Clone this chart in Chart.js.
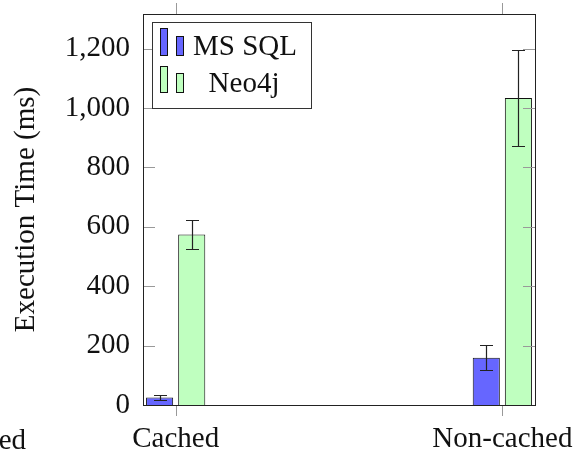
<!DOCTYPE html>
<html>
<head>
<meta charset="utf-8">
<script src="https://cdn.jsdelivr.net/npm/chart.js@4"></script>
<style>
  body { margin: 0; background: #fff; }
  #wrap { width: 583px; height: 456px; }
</style>
</head>
<body>
<div id="wrap"><canvas id="chart" width="583" height="456"></canvas></div>
<script>
// Data
const categories = ['Cached', 'Non-cached'];
const msSqlTimes = [25, 159];
const msSqlErrors = [8, 42];
const neo4jTimes = [574, 1034];
const neo4jErrors = [49, 163];
const yTicks = [0, 200, 400, 600, 800, 1000, 1200];

const FONT = "'Liberation Serif', 'Times New Roman', serif";
const BLUE = '#6666ff';
const GREEN = '#bfffbf';
const EDGE = '#111';

function toPoints(values) {
  return values.map((v, i) => ({ x: i, y: v }));
}

// Frame, inner ticks, error bars, legend (pgfplots look)
const decorations = {
  id: 'decorations',
  afterDatasetsDraw(chart) {
    const { ctx, chartArea: a, scales: { x, y } } = chart;
    ctx.save();

    // error bars
    const errs = [msSqlErrors, neo4jErrors];
    chart.data.datasets.forEach((ds, di) => {
      const meta = chart.getDatasetMeta(di);
      meta.data.forEach((bar, i) => {
        const v = ds.data[i].y;
        const e = errs[di][i];
        const top = Math.round(y.getPixelForValue(v + e)) + 0.5;
        const bot = Math.round(y.getPixelForValue(v - e)) + 0.5;
        const cx = Math.round(bar.x) + 0.5;
        ctx.strokeStyle = '#222';
        ctx.lineWidth = 1.2;
        ctx.beginPath();
        ctx.moveTo(cx, top); ctx.lineTo(cx, bot);
        ctx.moveTo(cx - 6.5, top); ctx.lineTo(cx + 6.5, top);
        ctx.moveTo(cx - 6.5, bot); ctx.lineTo(cx + 6.5, bot);
        ctx.stroke();
      });
    });

    // tick marks
    ctx.strokeStyle = '#999';
    ctx.lineWidth = 1;
    ctx.beginPath();
    yTicks.forEach(t => {
      const py = Math.round(y.getPixelForValue(t)) + 0.5;
      ctx.moveTo(a.left, py); ctx.lineTo(a.left + 12, py);
      ctx.moveTo(a.right, py); ctx.lineTo(a.right - 12, py);
    });
    categories.forEach((c, i) => {
      const px = Math.round(x.getPixelForValue(i)) + 0.5;
      ctx.moveTo(px, a.top); ctx.lineTo(px, a.top - 11);
      ctx.moveTo(px, a.bottom); ctx.lineTo(px, a.bottom + 11);
    });
    ctx.stroke();

    // axis frame
    ctx.strokeStyle = '#222';
    ctx.strokeRect(a.left + 0.5, a.top + 0.5, a.right - a.left, a.bottom - a.top);

    // legend
    ctx.fillStyle = '#fff';
    ctx.fillRect(152, 22, 159, 86);
    ctx.strokeStyle = '#333';
    ctx.strokeRect(152.5, 22.5, 159, 86);
    const icon = (x0, y0, h, fill) => {
      ctx.fillStyle = fill;
      ctx.fillRect(x0, y0, 7, h);
      ctx.strokeStyle = EDGE;
      ctx.strokeRect(x0 + 0.5, y0 + 0.5, 7, h);
    };
    icon(160, 28, 27, BLUE);
    icon(176, 36, 19, BLUE);
    icon(160, 66, 26, GREEN);
    icon(176, 73, 19, GREEN);
    ctx.fillStyle = '#111';
    ctx.font = '29px ' + FONT;
    ctx.textBaseline = 'alphabetic';
    ctx.textAlign = 'left';
    ctx.fillText('MS SQL', 193, 55);
    ctx.textAlign = 'center';
    ctx.fillText('Neo4j', 244, 92);

    // clipped label of the neighbouring figure
    ctx.textAlign = 'right';
    ctx.fillText('Non-cached', 26, 449);

    ctx.restore();
  }
};

new Chart(document.getElementById('chart'), {
  type: 'bar',
  data: {
    datasets: [
      {
        label: 'MS SQL',
        data: toPoints(msSqlTimes),
        backgroundColor: BLUE,
        borderColor: EDGE,
        borderWidth: 1,
        categoryPercentage: 0.1966,
        barPercentage: 0.844
      },
      {
        label: 'Neo4j',
        data: toPoints(neo4jTimes),
        backgroundColor: GREEN,
        borderColor: EDGE,
        borderWidth: 1,
        categoryPercentage: 0.1966,
        barPercentage: 0.844
      }
    ]
  },
  options: {
    responsive: false,
    animation: false,
    layout: { padding: { top: 14, right: 48, left: 0, bottom: 0 } },
    plugins: {
      legend: { display: false },
      tooltip: { enabled: false }
    },
    scales: {
      x: {
        type: 'linear',
        offset: false,
        min: -0.1,
        max: 1.1,
        grid: { display: false, drawTicks: false, offset: false },
        border: { display: false },
        afterBuildTicks: s => { s.ticks = categories.map((c, i) => ({ value: i })); },
        afterFit: s => { s.height = 51; s.paddingLeft = 0; s.paddingRight = 0; },
        ticks: {
          autoSkip: false,
          maxRotation: 0,
          padding: 17,
          color: '#111',
          font: { family: FONT, size: 29 },
          callback: v => categories[v]
        }
      },
      y: {
        min: 0,
        max: 1317,
        grid: { display: false, drawTicks: false },
        border: { display: false },
        afterBuildTicks: s => { s.ticks = yTicks.map(v => ({ value: v })); },
        afterFit: s => { s.width = 143; s.paddingTop = 0; s.paddingBottom = 0; },
        ticks: {
          padding: 13,
          color: '#111',
          font: { family: FONT, size: 29 },
          callback: v => v.toLocaleString('en-US')
        },
        title: {
          display: true,
          text: 'Execution Time (ms)',
          color: '#111',
          padding: { top: 9, bottom: 0 },
          font: { family: FONT, size: 29 }
        }
      }
    }
  },
  plugins: [decorations]
});
</script>
</body>
</html>
